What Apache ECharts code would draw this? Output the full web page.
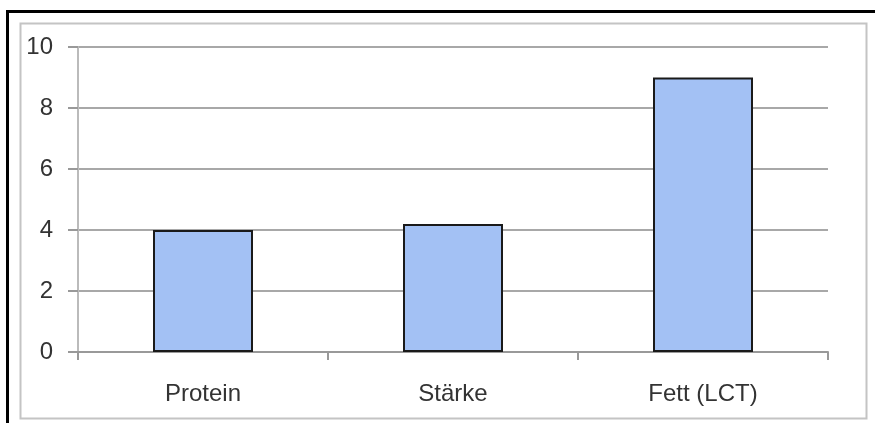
<!DOCTYPE html>
<html><head><meta charset="utf-8">
<script src="https://cdn.jsdelivr.net/npm/echarts@6/dist/echarts.min.js"></script>
<style>html,body{margin:0;padding:0;background:#fff}#c{width:875px;height:423px}</style>
</head><body><div id="c"></div>
<script>
const categories = ['Protein', 'Stärke', 'Fett (LCT)'];
const values = [4, 4.2, 9];
const yTicks = [0, 2, 4, 6, 8, 10];

const chart = echarts.init(document.getElementById('c'));
chart.setOption({
  animation: false,
  graphic: [
    {type: 'rect', shape: {x: 7.5, y: 11.5, width: 900, height: 500}, style: {fill: 'none', stroke: '#000', lineWidth: 3}, z: 10},
    {type: 'rect', shape: {x: 20.5, y: 23.5, width: 846, height: 395}, style: {fill: 'none', stroke: '#c4c4c4', lineWidth: 2}, z: 10}
  ],
  grid: {left: 78, right: 47, top: 47, bottom: 71},
  xAxis: {
    type: 'category', data: categories,
    axisLine: {lineStyle: {color: '#999', width: 2}},
    axisTick: {show: true, length: 8, lineStyle: {color: '#999', width: 2}},
    axisLabel: {color: '#333', fontFamily: 'Liberation Sans, Arial', fontSize: 24, margin: 30}
  },
  yAxis: {
    type: 'value', min: yTicks[0], max: yTicks[yTicks.length - 1], interval: 2,
    axisLine: {show: true, lineStyle: {color: '#bbb', width: 2}},
    axisTick: {show: true, length: 10, lineStyle: {color: '#999', width: 2}},
    splitLine: {lineStyle: {color: '#a8a8a8', width: 2}},
    axisLabel: {color: '#333', fontFamily: 'Liberation Sans, Arial', fontSize: 24, margin: 25}
  },
  series: [{
    type: 'bar', data: values, barWidth: '40%',
    itemStyle: {color: '#a3c1f4', borderColor: '#1a1a1a', borderWidth: 2}
  }]
});
</script></body></html>
